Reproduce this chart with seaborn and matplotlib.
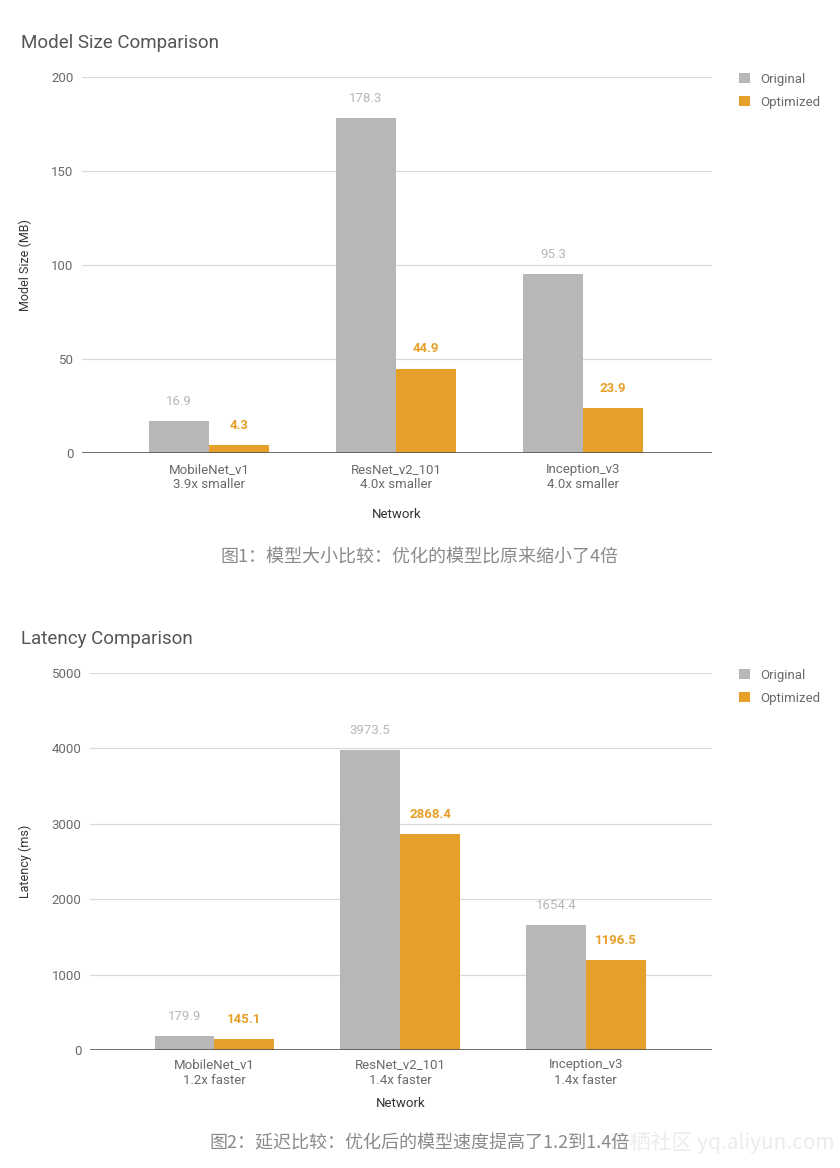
import matplotlib
matplotlib.use("Agg")
import matplotlib.pyplot as plt
import seaborn as sns
import pandas as pd
from matplotlib.patches import Patch

networks = ["MobileNet_v1", "ResNet_v2_101", "Inception_v3"]
size_notes = ["3.9x smaller", "4.0x smaller", "4.0x smaller"]
latency_notes = ["1.2x faster", "1.4x faster", "1.4x faster"]
series = ["Original", "Optimized"]
size_original = [16.9, 178.3, 95.3]
size_optimized = [4.3, 44.9, 23.9]
lat_original = [179.9, 3973.5, 1654.4]
lat_optimized = [145.1, 2868.4, 1196.5]
size_ticks = [0, 50, 100, 150, 200]
lat_ticks = [0, 1000, 2000, 3000, 4000, 5000]

GRAY = "#b7b7b7"
ORANGE = "#e69f28"
TXT = "#6a6a6a"

sns.set_theme(style="white")
plt.rcParams["font.family"] = ["Roboto", "DejaVu Sans"]

fig = plt.figure(figsize=(8.4, 11.68), dpi=100)


def make_df(orig, opt):
    rows = []
    for n, o, p in zip(networks, orig, opt):
        rows.append({"Network": n, "Series": series[0], "Value": o})
        rows.append({"Network": n, "Series": series[1], "Value": p})
    return pd.DataFrame(rows)


def draw(rect, orig, opt, ticks, notes, title, ylabel, fmt, xlim, title_y, caption, caption_y, xlab_pad, tick_pad):
    ax = fig.add_axes(rect)
    df = make_df(orig, opt)
    sns.barplot(data=df, x="Network", y="Value", hue="Series", hue_order=series,
                palette=[GRAY, ORANGE], width=0.645, saturation=1, ax=ax,
                legend=False, edgecolor="none", linewidth=0)
    ax.set_ylim(ticks[0], ticks[-1])
    ax.set_yticks(ticks)
    ax.set_xlim(*xlim)
    ax.set_xticks(range(len(networks)))
    ax.set_xticklabels([f"{n}\n{s}" for n, s in zip(networks, notes)],
                       color=TXT, fontsize=9.5, linespacing=1.25)
    ax.tick_params(axis="x", length=0, pad=tick_pad)
    ax.tick_params(axis="y", length=0, pad=6, labelsize=9.5, labelcolor=TXT)
    for t in ticks[1:]:
        ax.axhline(t, color="#d9d9d9", lw=0.9, zorder=0)
    ax.axhline(0, color="#555555", lw=1.2, zorder=3)
    for s in ax.spines.values():
        s.set_visible(False)
    ax.set_xlabel("Network", fontsize=9.5, color="#333333", labelpad=xlab_pad)
    ax.set_ylabel(ylabel, fontsize=9, color="#333333", labelpad=14)
    # value labels
    for cont, col, wt in zip(ax.containers, [GRAY, ORANGE], ["normal", "bold"]):
        for bar in cont:
            h = bar.get_height()
            ax.annotate(fmt.format(h), (bar.get_x() + bar.get_width() / 2, h),
                        xytext=(0, 9.5), textcoords="offset points",
                        ha="center", va="bottom", fontsize=9.5, color=col,
                        fontweight=wt)
    fig.text(21 / 840, title_y, title, fontsize=13.5, color="#555555", va="center")
    fig.text(0.5, caption_y, caption, fontsize=13, color="#8a8a8a", ha="center",
             va="center", family=["Noto Sans CJK SC", "DejaVu Sans"])
    handles = [Patch(facecolor=GRAY, edgecolor="none"), Patch(facecolor=ORANGE, edgecolor="none")]
    leg = ax.legend(handles, series, loc="upper left", bbox_to_anchor=(1.035, 1.025),
                    frameon=False, fontsize=9.5, handlelength=0.8, handleheight=0.8,
                    handletextpad=0.8, labelspacing=0.75, borderaxespad=0)
    for t in leg.get_texts():
        t.set_color(TXT)
    return ax


draw([82 / 840, 1 - 453 / 1168, 630 / 840, 376 / 1168], size_original, size_optimized,
     size_ticks, size_notes, "Model Size Comparison", "Model Size (MB)", "{:.1f}",
     (-0.68, 2.69), 1 - 43 / 1168, "图1：模型大小比较：优化的模型比原来缩小了4倍", 1 - 558 / 1168, 12, 7)

draw([90 / 840, 1 - 1050 / 1168, 622 / 840, 377 / 1168], lat_original, lat_optimized,
     lat_ticks, latency_notes, "Latency Comparison", "Latency (ms)", "{:.1f}",
     (-0.67, 2.68), 1 - 639 / 1168, "图2：延迟比较：优化后的模型速度提高了1.2到1.4倍", 1 - 1143 / 1168, 7, 6)

fig.text(835 / 840, 1 - 1143 / 1168, "云栖社区 yq.aliyun.com", fontsize=15, color="#ececec",
         ha="right", va="center", family=["Noto Sans CJK SC", "DejaVu Sans"], zorder=-1)

fig.savefig("out.png", dpi=100, facecolor="white")
